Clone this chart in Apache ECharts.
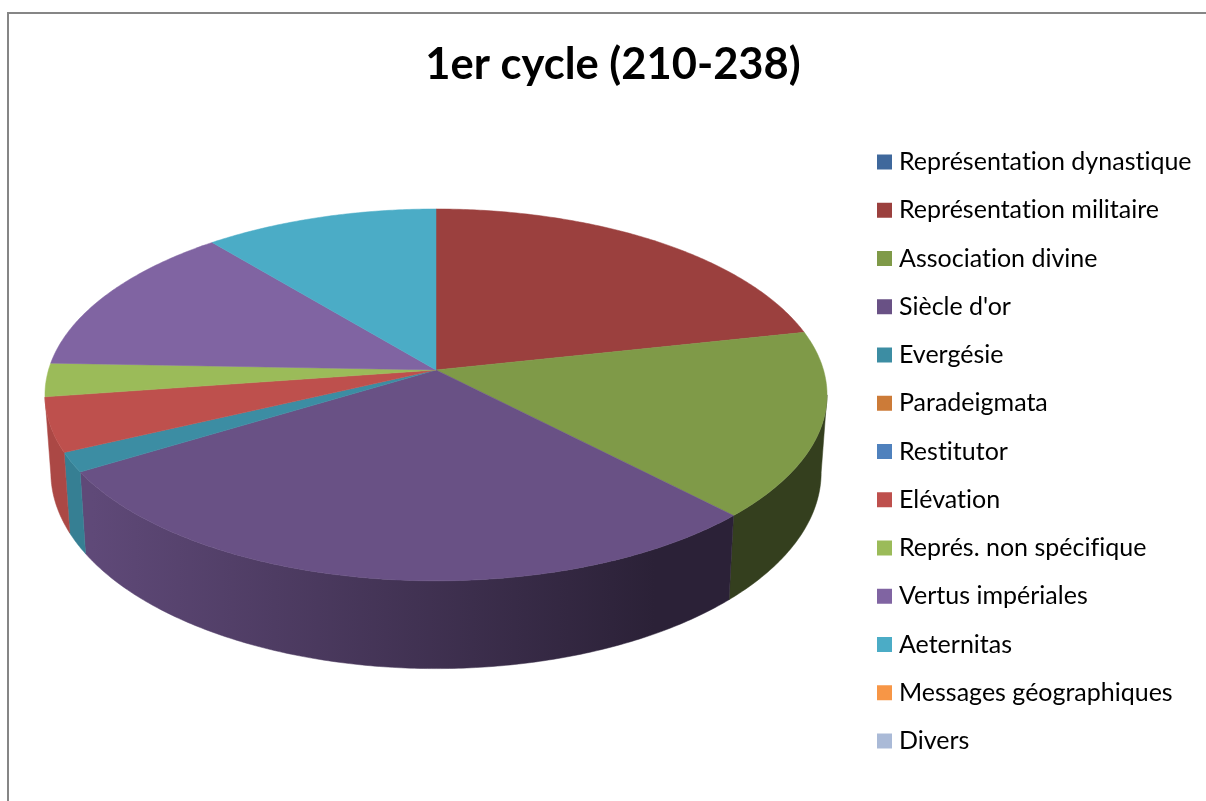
<!DOCTYPE html>
<html>
<head>
<meta charset="utf-8">
<style>html,body{margin:0;padding:0;background:#fff}#c{width:1206px;height:801px}</style>
<script src="https://cdn.jsdelivr.net/npm/echarts@6/dist/echarts.min.js"></script>
</head>
<body>
<div id="c"></div>
<script>
// Reference text has no "ti" ligatures: turn them off for canvas text.
const nativeGetContext = HTMLCanvasElement.prototype.getContext;
HTMLCanvasElement.prototype.getContext = function () {
  const ctx = nativeGetContext.apply(this, arguments);
  if (ctx && 'textRendering' in ctx) ctx.textRendering = 'optimizeSpeed';
  return ctx;
};

const titleText = '1er cycle (210-238)';
const categories = ['Représentation dynastique','Représentation militaire','Association divine','Siècle d\'or','Evergésie','Paradeigmata','Restitutor','Elévation','Représ. non spécifique','Vertus impériales','Aeternitas','Messages géographiques','Divers'];
const shares = [0,21.6,16.2,28.5,1.7,0,0,4.7,2.9,13.4,11.0,0,0];
const colors = ['#3F689C','#9B403E','#7F9A48','#695185','#3C8DA3','#CC7B38','#4F81BD','#BE504D','#9BBB59','#8064A2','#4BACC6','#F79646','#AABAD7'];

// Perspective view of the disc
const cx = 436, cy = 370, a = 182.6, b = 387.5, k = 0.134, depth = 76, shrink = 0.985;
const total = shares.reduce((s, v) => s + v, 0);
const starts = [];
shares.reduce((s, v, i) => (starts[i] = s, s + v), 0);

function topPt(t) {
  const u = Math.sin(t), v = -Math.cos(t), w = 1 - k * v;
  return [cx + b * u / w, cy + a * v / w];
}
function lowPt(t) {
  const u = Math.sin(t), v = -Math.cos(t), w = 1 - k * v;
  return [cx + shrink * b * u / w, cy + (a * v + depth) / w];
}
function arc(t0, t1, fn) {
  const n = Math.max(2, Math.ceil(Math.abs(t1 - t0) / 0.01));
  const pts = [];
  for (let i = 0; i <= n; i++) pts.push(fn(t0 + (t1 - t0) * i / n));
  return pts;
}
function shade(hex, f) {
  const n = parseInt(hex.slice(1), 16);
  return 'rgb(' + [(n >> 16) & 255, (n >> 8) & 255, n & 255].map(c => Math.round(c * f)).join(',') + ')';
}
function wallFill(hex) {
  return new echarts.graphic.LinearGradient(45, 0, 827, 0, [
    { offset: 0, color: shade(hex, 0.9) },
    { offset: 0.06, color: shade(hex, 0.9) },
    { offset: 0.78, color: shade(hex, 0.41) },
    { offset: 1, color: shade(hex, 0.41) }
  ], true);
}
const rimFrom = Math.PI / 2 + Math.asin(k), rimTo = 3 * Math.PI / 2 - Math.asin(k) - 0.012;

function makeRender(i) {
  return function (params, api) {
    const val = api.value(0);
    if (!val) return { type: 'group', children: [] };
    const t0 = starts[i] / total * 2 * Math.PI;
    const t1 = t0 + val / total * 2 * Math.PI;
    const children = [];
    const w0 = Math.max(t0, rimFrom), w1 = Math.min(t1, rimTo);
    if (w1 > w0) {
      const pts = arc(w0, w1, topPt).concat(arc(w1, w0, lowPt));
      const fill = wallFill(colors[i]);
      children.push({ type: 'polygon', z2: 1, shape: { points: pts }, style: { fill: fill, stroke: fill, lineWidth: 0.5 } });
    }
    const face = [[cx, cy]].concat(arc(t0, t1, topPt));
    children.push({ type: 'polygon', z2: 10, shape: { points: face }, style: { fill: colors[i], stroke: colors[i], lineWidth: 0.5 } });
    return { type: 'group', children: children };
  };
}

const chart = echarts.init(document.getElementById('c'), null, { renderer: 'canvas' });
chart.setOption({
  animation: false,
  backgroundColor: '#fff',
  title: {
    text: titleText, left: 608, top: 38, textAlign: 'center',
    textStyle: { fontFamily: 'Lato', fontWeight: 'bold', fontSize: 43.5, color: '#000' }
  },
  legend: {
    orient: 'vertical', left: 877, top: 147, padding: 0,
    itemWidth: 15, itemHeight: 15, itemGap: 18.25, icon: 'rect', selectedMode: false,
    data: categories,
    textStyle: { fontFamily: 'Lato', fontSize: 25, color: '#000', lineHeight: 30, padding: [0, 0, 0, 2] }
  },
  graphic: [{
    type: 'rect', silent: true, z: 100,
    shape: { x: 8, y: 13, width: 1400, height: 1000 },
    style: { fill: 'none', stroke: '#868686', lineWidth: 2 }
  }],
  series: categories.map((name, i) => ({
    type: 'custom', name: name, coordinateSystem: 'none',
    itemStyle: { color: colors[i] },
    data: [[shares[i]]],
    renderItem: makeRender(i)
  }))
});
</script>
</body>
</html>
